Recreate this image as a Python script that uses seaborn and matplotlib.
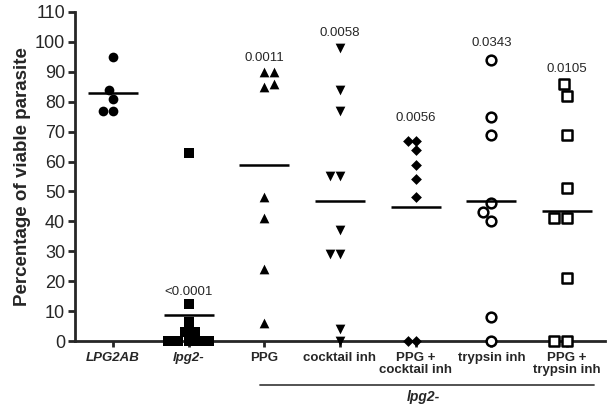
import matplotlib
matplotlib.use("Agg")
import matplotlib.pyplot as plt
import matplotlib.transforms as mtransforms
import seaborn as sns
import pandas as pd
import numpy as np

# ---- data ----
groups = ["LPG2AB", "lpg2-", "PPG", "cocktail inh", "PPG +\ncocktail inh",
          "trypsin inh", "PPG +\ntrypsin inh"]
lpg2ab = [95, 84, 81, 77, 77]
lpg2 = [63, 12.5, 6.5, 3, 3, 0, 0, 0, 0, 0]
ppg = [90, 90, 86, 85, 48, 41, 24, 6]
cocktail = [98, 84, 77, 55, 55, 37, 29, 29, 4, 0]
ppg_cocktail = [67, 67, 64, 59, 54, 48, 0, 0]
trypsin = [94, 75, 69, 46, 43, 40, 8, 0]
ppg_trypsin = [86, 82, 69, 51, 41, 41, 21, 0, 0]
pvalues = ["", "<0.0001", "0.0011", "0.0058", "0.0056", "0.0343", "0.0105"]
pvalue_y = [None, 16.5, 94.5, 103, 74.5, 99.5, 91]
bracket_label = "lpg2-"

series = [lpg2ab, lpg2, ppg, cocktail, ppg_cocktail, trypsin, ppg_trypsin]
markers = ["o", "s", "^", "v", "D", "o", "s"]
filled = [True, True, True, True, True, False, False]
msizes = [7, 7, 7, 7, 5.5, 7, 7]

rows = []
for g, vals in zip(groups, series):
    for v in vals:
        rows.append({"group": g, "value": v})
df = pd.DataFrame(rows)

sns.set_style("ticks")
plt.rcParams["font.family"] = ["Liberation Sans", "DejaVu Sans"]

fig = plt.figure(figsize=(6.11, 4.09), dpi=100)
ax = fig.add_axes([0.1227, 0.166, 0.8673, 0.805])

for g, m, f, s in zip(groups, markers, filled, msizes):
    sub = df[df["group"] == g]
    if f:
        sns.swarmplot(data=sub, x="group", y="value", order=groups, marker=m,
                      color="black", size=s, linewidth=0, ax=ax, clip_on=False,
                      zorder=3)
    else:
        sns.swarmplot(data=sub, x="group", y="value", order=groups, marker=m,
                      color="white", edgecolor="black", linewidth=1.8, size=s,
                      ax=ax, clip_on=False, zorder=3)

sns.pointplot(data=df, x="group", y="value", order=groups, estimator="mean",
              errorbar=None, linestyle="none", marker="_", markersize=36,
              markeredgewidth=1.8, color="black", ax=ax, zorder=4)

ax.set_xlim(-0.5, 6.5)
ax.set_ylim(0, 110)
ax.set_yticks(np.arange(0, 111, 10))
ax.set_xlabel("")
ax.set_ylabel("Percentage of viable parasite", fontsize=13.5, fontweight="bold",
              labelpad=3)

for sp in ["top", "right"]:
    ax.spines[sp].set_visible(False)
for sp in ["left", "bottom"]:
    ax.spines[sp].set_linewidth(2.0)
    ax.spines[sp].set_zorder(2)

ax.tick_params(axis="y", labelsize=13, width=2.0, length=5, pad=2)
ax.tick_params(axis="x", labelsize=9.5, width=2.0, length=4, pad=4)
ax.set_xticks(range(len(groups)))
ax.set_xticklabels(groups)
for i, lab in enumerate(ax.get_xticklabels()):
    lab.set_fontweight("bold")
    if i < 2:
        lab.set_fontstyle("italic")
    lab.set_linespacing(1.0)

# p-value annotations
for i, (t, y) in enumerate(zip(pvalues, pvalue_y)):
    if t:
        ax.text(i, y, t, ha="center", va="center", fontsize=9.5)

# bracket under lpg2- derived groups
trans = mtransforms.blended_transform_factory(ax.transData, ax.transAxes)
ax.plot([1.95, 6.36], [-0.134, -0.134], transform=trans, color="#444444",
        lw=1.3, clip_on=False)
ax.text(4.1, -0.15, bracket_label, transform=trans, ha="center", va="top",
        fontsize=10, fontweight="bold", fontstyle="italic")

fig.savefig("out.png", dpi=100)
